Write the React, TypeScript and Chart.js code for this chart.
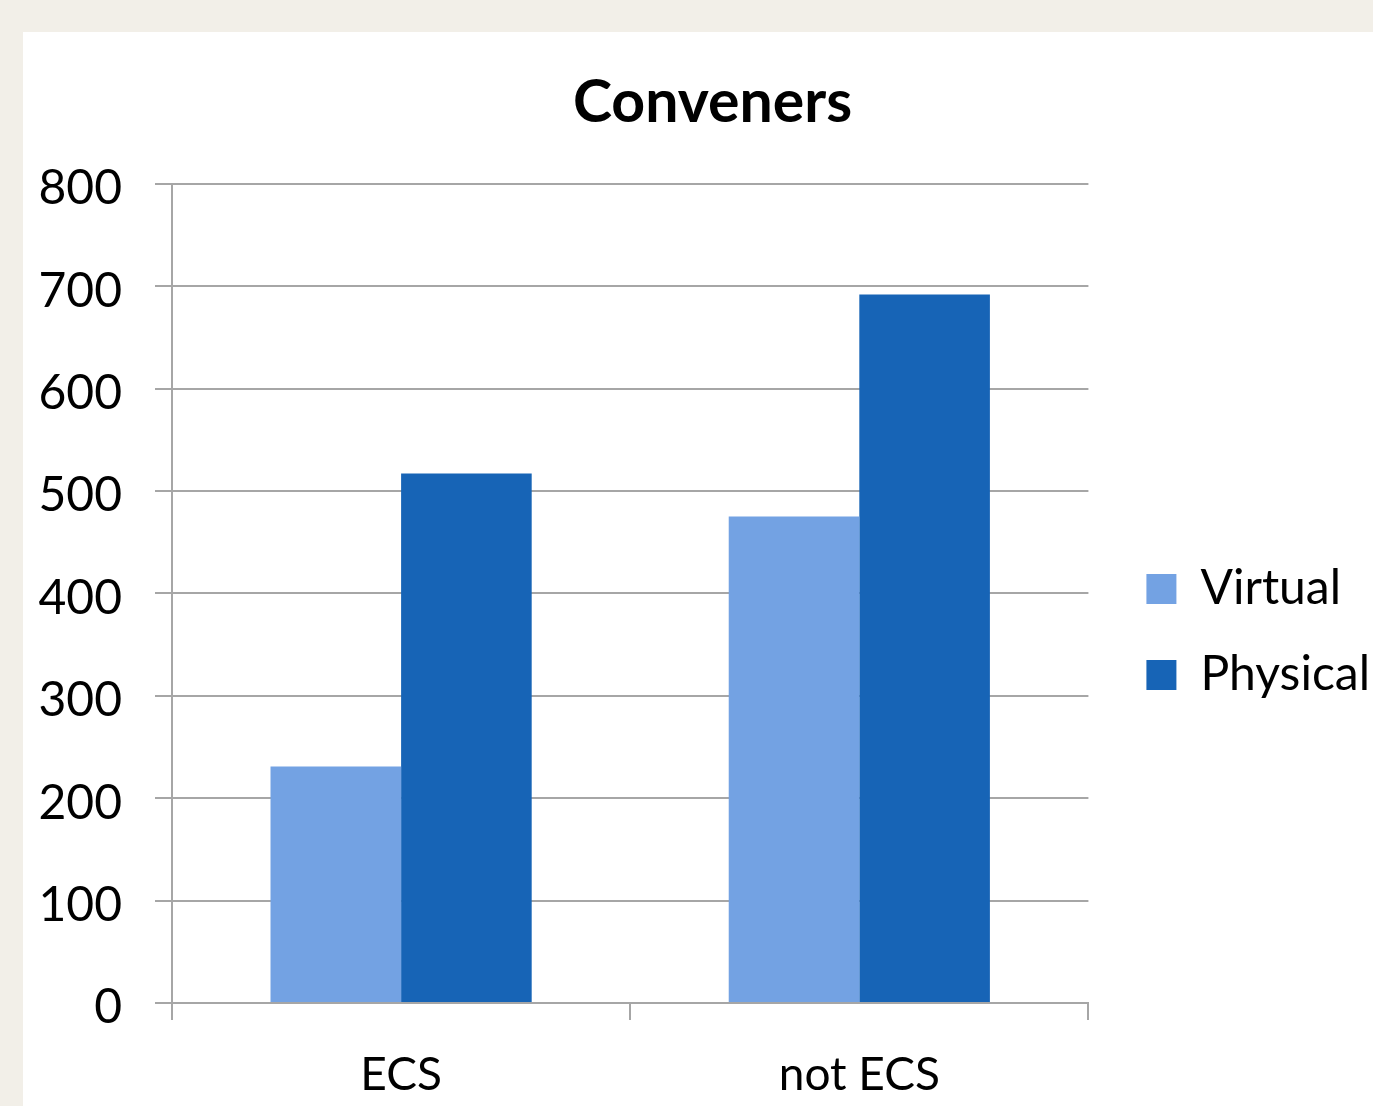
import React, { useEffect, useRef } from "react";
import { Chart, registerables } from "chart.js";

Chart.register(...registerables);

const categories = ["ECS", "not ECS"];
const seriesNames = ["Virtual", "Physical"];
const virtualValues = [231, 475];
const physicalValues = [517, 692];
const yTicks = [0, 100, 200, 300, 400, 500, 600, 700, 800];

const FONT = "Lato, 'Open Sans', sans-serif";
const GRID = "#a6a6a6";

const shiftBoxes = {
  id: "shiftBoxes",
  afterLayout(chart: any) {
    const t = chart.titleBlock;
    if (t) {
      t.left += 21;
      t.right += 21;
    }
    const l = chart.legend;
    if (l) {
      l.left += 20;
      l.right += 20;
      l.top += 63;
      l.bottom += 63;
    }
  },
};

export default function App() {
  const ref = useRef<HTMLCanvasElement | null>(null);

  useEffect(() => {
    if (!ref.current) return;
    const chart = new Chart(ref.current, {
      type: "bar",
      data: {
        labels: categories,
        datasets: [
          {
            label: seriesNames[0],
            data: virtualValues,
            backgroundColor: "#73a2e3",
            borderWidth: 0,
            categoryPercentage: 0.57,
            barPercentage: 1.0,
          },
          {
            label: seriesNames[1],
            data: physicalValues,
            backgroundColor: "#1764b6",
            borderWidth: 0,
            categoryPercentage: 0.57,
            barPercentage: 1.0,
          },
        ],
      },
      plugins: [shiftBoxes],
      options: {
        animation: false,
        responsive: false,
        maintainAspectRatio: false,
        devicePixelRatio: 1,
        layout: { padding: { left: 0, right: 13, top: 0, bottom: 0 } },
        plugins: {
          title: {
            display: true,
            text: "Conveners",
            color: "#000",
            font: { family: FONT, size: 59, weight: "bold" },
            padding: { top: 36, bottom: 45 },
          },
          legend: {
            position: "right",
            labels: {
              color: "#000",
              font: { family: FONT, size: 48 },
              boxWidth: 30,
              boxHeight: 30,
              padding: 38,
            },
          },
          tooltip: { enabled: false },
        },
        scales: {
          x: {
            afterFit: (scale: any) => {
              scale.height = 103;
            },
            grid: {
              drawOnChartArea: false,
              drawTicks: true,
              tickLength: 17,
              color: GRID,
              lineWidth: 2,
            },
            border: { color: GRID, width: 2 },
            ticks: {
              color: "#000",
              font: { family: FONT, size: 46 },
              padding: 28,
            },
          },
          y: {
            min: 0,
            max: 800,
            afterBuildTicks: (scale: any) => {
              scale.ticks = yTicks.map((v) => ({ value: v }));
            },
            afterFit: (scale: any) => {
              scale.width = 149;
            },
            grid: {
              color: GRID,
              lineWidth: 2,
              tickLength: 17,
            },
            border: { color: GRID, width: 2 },
            ticks: {
              color: "#000",
              font: { family: FONT, size: 48 },
              padding: 33,
              labelOffset: 5,
            },
          },
        },
      },
    });
    return () => chart.destroy();
  }, []);

  return (
    <div
      style={{
        position: "absolute",
        left: 0,
        top: 0,
        width: 1373,
        height: 1106,
        background: "#f2efe8",
        overflow: "hidden",
      }}
    >
      <div
        style={{
          position: "absolute",
          left: 23,
          top: 32,
          width: 1350,
          height: 1074,
          background: "#ffffff",
        }}
      >
        <canvas ref={ref} width={1350} height={1074} style={{ display: "block" }} />
      </div>
    </div>
  );
}
